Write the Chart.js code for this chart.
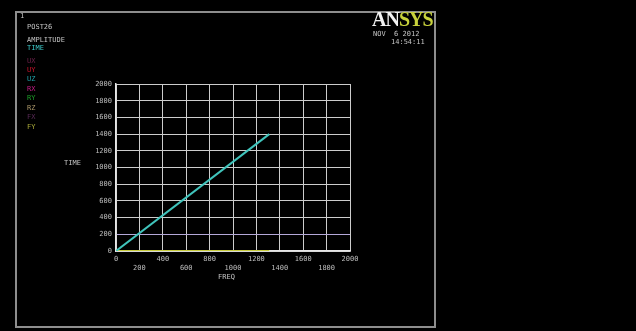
<!DOCTYPE html>
<html>
<head>
<meta charset="utf-8">
<script src="https://cdn.jsdelivr.net/npm/chart.js@4.4.1/dist/chart.umd.min.js"></script>
<style>
  html, body { margin: 0; padding: 0; background: #000; }
  #wrap { position: relative; width: 636px; height: 331px; background: #000; overflow: hidden; }
  #c { position: absolute; left: 0; top: 0; }
  .frame { position: absolute; left: 15px; top: 11px; width: 417px; height: 313px; border: 2px solid #8e8e8e; }
  .t { position: absolute; font-family: "DejaVu Sans Mono", monospace; font-size: 7px; line-height: 8px; color: #c4c4c4; white-space: pre; }
  .logo { position: absolute; left: 372px; top: 9px; font-family: "Liberation Serif", serif; font-weight: bold; font-size: 20px; line-height: 20px; letter-spacing: -1px; }
</style>
</head>
<body>
<div id="wrap">
  <canvas id="c" width="636" height="331"></canvas>
  <div class="frame"></div>
  <div class="t" style="left:20px;top:12px;">1</div>
  <div class="t" style="left:27px;top:23px;">POST26</div>
  <div class="t" style="left:27px;top:36px;">AMPLITUDE</div>
  <div class="t" style="left:27px;top:44px;color:#3cc8c8;">TIME</div>
  <div id="legend"></div>
  <div class="logo"><span style="color:#f2f2f2">AN</span><span style="color:#c8d23c">SYS</span></div>
  <div class="t" style="left:373px;top:30px;">NOV  6 2012</div>
  <div class="t" style="left:391px;top:38px;">14:54:11</div>
  <div class="t" style="left:64px;top:159px;">TIME</div>
  <div class="t" style="left:218px;top:273px;">FREQ</div>
</div>
<script>
// Response curve: time versus frequency
const freq = [0, 1310];
const time = [0, 1400];
// Baseline variable, flat along the axis over the same range
const baseFreq = [0, 1310];
const baseVal = [0, 0];

// Axis ticks
const xTicks = [0, 200, 400, 600, 800, 1000, 1200, 1400, 1600, 1800, 2000];
const yTicks = [0, 200, 400, 600, 800, 1000, 1200, 1400, 1600, 1800, 2000];

// Variable list shown under the header
const legendNames = ['UX', 'UY', 'UZ', 'RX', 'RY', 'RZ', 'FX', 'FY'];
const legendColors = ['#6a2048', '#c8142c', '#1fa0a8', '#c01c84', '#1c9c28', '#a89468', '#582a56', '#a8a838'];
const legendTops = [57, 66, 75, 85, 94, 104, 113, 123];

const legendEl = document.getElementById('legend');
legendNames.forEach((n, i) => {
  const d = document.createElement('div');
  d.className = 't';
  d.style.left = '27px';
  d.style.top = legendTops[i] + 'px';
  d.style.color = legendColors[i];
  d.textContent = n;
  legendEl.appendChild(d);
});

const tickFont = { family: 'DejaVu Sans Mono', size: 7, lineHeight: 1.25 };
const gridCol = '#cccccc';

new Chart(document.getElementById('c'), {
  type: 'line',
  data: {
    datasets: [
      {
        data: baseFreq.map((f, i) => ({ x: f, y: baseVal[i] })),
        borderColor: '#c8cc3c',
        borderWidth: 2,
        pointRadius: 0,
        order: 2
      },
      {
        data: freq.map((f, i) => ({ x: f, y: time[i] })),
        borderColor: '#40c4bc',
        borderWidth: 2,
        pointRadius: 0,
        order: 1
      }
    ]
  },
  options: {
    responsive: false,
    animation: false,
    layout: { padding: { left: 86, right: 286, top: 84, bottom: 45 } },
    plugins: { legend: { display: false }, tooltip: { enabled: false } },
    scales: {
      x: {
        type: 'linear',
        min: xTicks[0],
        max: xTicks[xTicks.length - 1],
        afterBuildTicks: s => { s.ticks = xTicks.map(v => ({ value: v })); },
        afterFit: s => { s.height = 35; },
        ticks: {
          autoSkip: false,
          maxRotation: 0,
          padding: 4,
          color: '#bdbdbd',
          font: tickFont,
          callback: (v, i) => (i % 2 ? ['', String(v)] : String(v))
        },
        grid: { color: gridCol, lineWidth: 1, tickLength: 0 },
        border: { color: '#e6e6e6', width: 1.5 }
      },
      y: {
        type: 'linear',
        min: yTicks[0],
        max: yTicks[yTicks.length - 1],
        afterBuildTicks: s => { s.ticks = yTicks.map(v => ({ value: v })); },
        afterFit: s => { s.width = 30; },
        ticks: {
          padding: 4,
          color: '#bdbdbd',
          font: tickFont,
          callback: v => String(v)
        },
        grid: {
          color: ctx => (ctx.tick && ctx.tick.value === 200 ? '#b4a8d8' : gridCol),
          lineWidth: 1,
          tickLength: 0
        },
        border: { color: '#e6e6e6', width: 1.5 }
      }
    }
  }
});
</script>
</body>
</html>
